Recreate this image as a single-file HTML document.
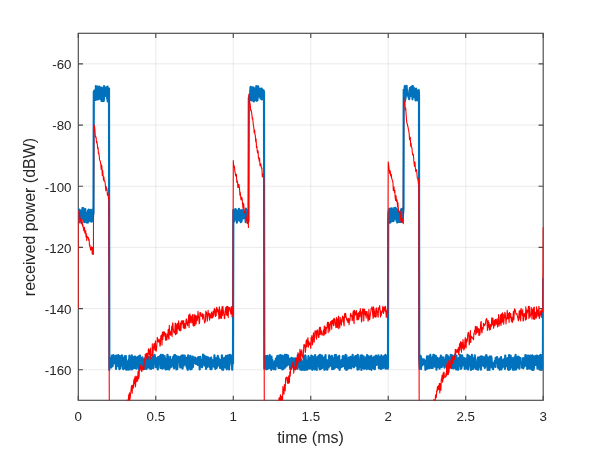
<!DOCTYPE html>
<html><head><meta charset="utf-8"><title>received power</title>
<style>html,body{margin:0;padding:0;background:#fff}svg{display:block}</style>
</head><body>
<svg width="600" height="450" viewBox="0 0 600 450">
<defs><clipPath id="ax2"><rect x="78.3" y="33.3" width="465.4" height="367.4"/></clipPath><clipPath id="ax"><rect x="78.3" y="33.3" width="464.9" height="367"/></clipPath></defs>
<rect width="600" height="450" fill="#fff"/>
<path d="M155.78 33.3V400.3M233.27 33.3V400.3M310.75 33.3V400.3M388.23 33.3V400.3M465.72 33.3V400.3M78.3 369.72H543.2M78.3 308.55H543.2M78.3 247.38H543.2M78.3 186.22H543.2M78.3 125.05H543.2M78.3 63.88H543.2" stroke="#262626" stroke-opacity="0.09" stroke-width="1" fill="none"/>
<rect x="78.3" y="33.3" width="464.90000000000003" height="367.0" fill="none" stroke="#4a4a4a" stroke-width="1.15"/>
<path d="M78.30 400.3v-4.65M78.30 33.3v4.65M155.78 400.3v-4.65M155.78 33.3v4.65M233.27 400.3v-4.65M233.27 33.3v4.65M310.75 400.3v-4.65M310.75 33.3v4.65M388.23 400.3v-4.65M388.23 33.3v4.65M465.72 400.3v-4.65M465.72 33.3v4.65M543.20 400.3v-4.65M543.20 33.3v4.65M78.3 369.72h4.65M543.2 369.72h-4.65M78.3 308.55h4.65M543.2 308.55h-4.65M78.3 247.38h4.65M543.2 247.38h-4.65M78.3 186.22h4.65M543.2 186.22h-4.65M78.3 125.05h4.65M543.2 125.05h-4.65M78.3 63.88h4.65M543.2 63.88h-4.65" stroke="#4a4a4a" stroke-width="1.15" fill="none"/>
<g clip-path="url(#ax)" fill="none" stroke-linejoin="round">
<polyline points="78.3,213.4 78.6,209.4 78.8,211.2 79.1,219.3 79.3,218.2 79.6,209.8 79.8,222.5 80.1,210.6 80.4,210.9 80.6,215.7 80.9,218.2 81.1,218.5 81.4,218.9 81.7,216.1 81.9,215.2 82.2,214.5 82.4,208.0 82.7,211.0 82.9,213.5 83.2,208.1 83.5,219.5 83.7,220.3 84.0,213.6 84.2,222.0 84.5,222.1 84.8,215.1 85.0,215.8 85.3,209.1 85.5,213.4 85.8,215.1 86.0,215.3 86.3,219.0 86.6,222.4 86.8,219.8 87.1,212.5 87.3,219.7 87.6,217.2 87.9,222.6 88.1,210.4 88.4,220.3 88.6,218.7 88.9,209.7 89.1,215.1 89.4,210.2 89.7,213.2 89.9,211.7 90.2,221.3 90.4,214.7 90.7,215.2 91.0,209.8 91.2,217.3 91.5,213.8 91.7,221.7 92.0,216.9 92.2,217.9 92.5,220.4 92.8,210.6 93.0,217.0 93.3,208.2 93.5,213.9 93.8,91.9 94.1,91.4 94.3,90.7 94.6,99.1 94.8,94.5 95.1,97.7 95.3,95.1 95.6,100.0 95.9,86.1 96.1,98.1 96.4,90.8 96.6,96.7 96.9,87.6 97.2,91.0 97.4,99.4 97.7,88.1 97.9,86.5 98.2,87.1 98.4,92.4 98.7,99.2 99.0,98.4 99.2,86.7 99.5,92.7 99.7,98.6 100.0,87.4 100.3,91.3 100.5,92.4 100.8,95.5 101.0,95.0 101.3,97.7 101.5,100.9 101.8,87.6 102.1,94.1 102.3,92.8 102.6,96.4 102.8,89.6 103.1,101.1 103.4,95.6 103.6,101.0 103.9,99.5 104.1,86.1 104.4,91.0 104.6,94.7 104.9,93.2 105.2,87.6 105.4,96.0 105.7,92.1 105.9,90.6 106.2,95.8 106.5,93.2 106.7,89.3 107.0,87.0 107.2,99.1 107.5,86.7 107.7,101.4 108.0,89.5 108.3,88.6 108.5,99.3 108.8,94.8 109.0,88.5 109.3,369.8 109.6,360.4 109.8,357.9 110.1,362.2 110.3,358.9 110.6,366.6 110.8,367.0 111.1,364.5 111.4,367.3 111.6,364.7 111.9,355.5 112.1,361.3 112.4,364.8 112.7,365.9 112.9,355.5 113.2,363.2 113.4,355.0 113.7,362.1 113.9,362.1 114.2,356.3 114.5,358.7 114.7,361.1 115.0,363.5 115.2,356.6 115.5,363.7 115.8,355.9 116.0,369.0 116.3,363.4 116.5,362.1 116.8,355.5 117.0,366.2 117.3,357.7 117.6,359.7 117.8,359.1 118.1,360.4 118.3,355.2 118.6,364.9 118.8,363.9 119.1,366.9 119.4,369.2 119.6,366.8 119.9,356.0 120.1,357.2 120.4,368.3 120.7,360.8 120.9,362.7 121.2,360.9 121.4,359.9 121.7,365.3 121.9,355.3 122.2,362.9 122.5,360.4 122.7,360.3 123.0,367.2 123.2,369.1 123.5,363.7 123.8,358.3 124.0,357.6 124.3,358.9 124.5,368.3 124.8,356.1 125.0,357.8 125.3,356.6 125.6,362.0 125.8,356.0 126.1,369.3 126.3,369.6 126.6,369.7 126.9,366.2 127.1,366.2 127.4,367.2 127.6,361.4 127.9,369.4 128.1,361.0 128.4,367.5 128.7,359.7 128.9,369.7 129.2,365.3 129.4,355.7 129.7,361.8 130.0,357.6 130.2,360.0 130.5,360.7 130.7,367.1 131.0,361.2 131.2,369.4 131.5,357.8 131.8,355.3 132.0,357.0 132.3,369.2 132.5,364.8 132.8,365.2 133.1,368.3 133.3,360.4 133.6,357.8 133.8,365.2 134.1,356.8 134.3,357.8 134.6,368.0 134.9,358.3 135.1,356.5 135.4,367.0 135.6,361.3 135.9,360.3 136.2,360.7 136.4,368.6 136.7,359.9 136.9,360.4 137.2,357.4 137.4,357.7 137.7,365.0 138.0,359.0 138.2,356.8 138.5,356.4 138.7,367.6 139.0,369.6 139.3,360.1 139.5,366.7 139.8,361.4 140.0,355.6 140.3,364.2 140.5,366.2 140.8,363.0 141.1,360.0 141.3,368.5 141.6,364.2 141.8,368.0 142.1,359.9 142.4,357.3 142.6,364.3 142.9,364.3 143.1,361.8 143.4,366.7 143.6,366.2 143.9,365.0 144.2,363.0 144.4,368.8 144.7,358.5 144.9,361.2 145.2,365.4 145.5,368.8 145.7,358.4 146.0,368.0 146.2,368.0 146.5,368.0 146.7,368.8 147.0,356.2 147.3,365.9 147.5,365.3 147.8,357.3 148.0,360.5 148.3,367.2 148.6,363.4 148.8,356.5 149.1,364.3 149.3,359.2 149.6,368.5 149.8,358.9 150.1,358.1 150.4,357.4 150.6,359.7 150.9,364.4 151.1,369.0 151.4,362.1 151.7,358.4 151.9,367.1 152.2,366.0 152.4,361.8 152.7,358.6 152.9,356.3 153.2,368.1 153.5,367.2 153.7,357.8 154.0,360.2 154.2,359.0 154.5,354.8 154.8,355.7 155.0,357.1 155.3,358.1 155.5,364.0 155.8,360.2 156.0,367.2 156.3,358.4 156.6,358.4 156.8,359.0 157.1,363.2 157.3,364.2 157.6,363.6 157.8,369.5 158.1,357.1 158.4,361.7 158.6,364.1 158.9,361.6 159.1,359.0 159.4,364.2 159.7,357.3 159.9,356.0 160.2,364.1 160.4,367.9 160.7,358.4 160.9,354.8 161.2,367.8 161.5,359.1 161.7,357.4 162.0,355.9 162.2,368.1 162.5,368.6 162.8,354.9 163.0,368.2 163.3,367.3 163.5,361.2 163.8,363.2 164.0,358.5 164.3,367.1 164.6,356.0 164.8,366.7 165.1,358.3 165.3,369.0 165.6,362.8 165.9,369.5 166.1,365.2 166.4,365.2 166.6,359.0 166.9,363.1 167.1,369.2 167.4,354.8 167.7,356.4 167.9,356.0 168.2,366.3 168.4,364.0 168.7,366.5 169.0,368.1 169.2,369.5 169.5,362.3 169.7,368.1 170.0,367.3 170.2,356.9 170.5,362.6 170.8,367.2 171.0,359.8 171.3,366.0 171.5,362.0 171.8,365.7 172.1,362.1 172.3,360.4 172.6,361.8 172.8,364.0 173.1,357.9 173.3,356.7 173.6,367.3 173.9,367.9 174.1,368.3 174.4,355.0 174.6,355.6 174.9,366.5 175.2,355.2 175.4,366.8 175.7,362.3 175.9,362.4 176.2,356.0 176.4,369.4 176.7,365.2 177.0,360.8 177.2,369.0 177.5,366.4 177.7,362.9 178.0,356.6 178.3,358.4 178.5,357.3 178.8,358.4 179.0,359.2 179.3,357.0 179.5,359.6 179.8,358.8 180.1,365.4 180.3,367.5 180.6,358.5 180.8,367.5 181.1,356.0 181.4,360.9 181.6,365.0 181.9,355.7 182.1,367.7 182.4,362.2 182.6,368.6 182.9,355.3 183.2,361.2 183.4,357.7 183.7,365.7 183.9,357.8 184.2,359.3 184.5,360.2 184.7,355.5 185.0,363.4 185.2,363.7 185.5,359.4 185.7,357.3 186.0,364.9 186.3,359.8 186.5,366.8 186.8,361.6 187.0,358.3 187.3,369.0 187.6,358.9 187.8,369.8 188.1,355.4 188.3,362.9 188.6,363.8 188.8,359.0 189.1,362.0 189.4,358.8 189.6,368.7 189.9,361.4 190.1,361.5 190.4,355.8 190.7,369.4 190.9,363.1 191.2,360.4 191.4,361.6 191.7,368.9 191.9,361.0 192.2,366.6 192.5,367.0 192.7,356.6 193.0,367.0 193.2,363.1 193.5,358.5 193.8,359.2 194.0,361.6 194.3,357.7 194.5,362.9 194.8,360.5 195.0,357.5 195.3,359.7 195.6,360.2 195.8,363.8 196.1,361.5 196.3,364.0 196.6,358.6 196.8,364.2 197.1,362.9 197.4,358.5 197.6,362.3 197.9,364.9 198.1,357.4 198.4,364.2 198.7,357.1 198.9,358.0 199.2,363.2 199.4,359.1 199.7,369.5 199.9,364.1 200.2,356.9 200.5,361.2 200.7,361.5 201.0,359.9 201.2,359.7 201.5,361.1 201.8,363.6 202.0,367.2 202.3,365.5 202.5,365.5 202.8,363.4 203.0,354.7 203.3,364.6 203.6,363.2 203.8,364.3 204.1,361.1 204.3,355.5 204.6,356.4 204.9,364.3 205.1,365.9 205.4,356.5 205.6,362.5 205.9,359.5 206.1,368.9 206.4,356.8 206.7,365.2 206.9,362.5 207.2,367.0 207.4,363.6 207.7,357.4 208.0,357.4 208.2,362.8 208.5,358.3 208.7,363.0 209.0,364.3 209.2,361.7 209.5,366.9 209.8,365.2 210.0,359.2 210.3,358.2 210.5,369.2 210.8,358.8 211.1,357.5 211.3,363.2 211.6,369.1 211.8,359.6 212.1,366.3 212.3,360.2 212.6,364.3 212.9,360.3 213.1,366.1 213.4,362.7 213.6,362.0 213.9,360.4 214.2,366.9 214.4,355.3 214.7,365.6 214.9,365.3 215.2,366.1 215.4,369.0 215.7,363.6 216.0,358.2 216.2,359.2 216.5,367.0 216.7,367.9 217.0,365.1 217.3,358.3 217.5,362.6 217.8,355.9 218.0,360.0 218.3,360.5 218.5,358.3 218.8,358.5 219.1,364.8 219.3,366.1 219.6,363.3 219.8,362.5 220.1,367.9 220.4,363.3 220.6,360.2 220.9,367.9 221.1,367.9 221.4,367.4 221.6,365.7 221.9,355.3 222.2,369.6 222.4,367.2 222.7,367.5 222.9,362.8 223.2,369.8 223.5,363.0 223.7,367.5 224.0,365.9 224.2,357.9 224.5,367.2 224.7,360.6 225.0,363.8 225.3,363.6 225.5,357.5 225.8,367.6 226.0,355.9 226.3,356.4 226.6,359.8 226.8,369.3 227.1,359.9 227.3,360.8 227.6,358.2 227.8,366.8 228.1,355.4 228.4,356.5 228.6,368.3 228.9,365.2 229.1,369.5 229.4,357.3 229.7,356.0 229.9,354.9 230.2,360.7 230.4,359.8 230.7,359.6 230.9,361.3 231.2,355.5 231.5,360.7 231.7,364.9 232.0,362.2 232.2,369.7 232.5,358.9 232.8,359.4 233.0,363.6 233.3,210.1 233.5,211.5 233.8,217.7 234.0,221.5 234.3,220.7 234.6,219.9 234.8,218.1 235.1,216.0 235.3,209.0 235.6,218.5 235.8,209.4 236.1,212.6 236.4,210.1 236.6,216.7 236.9,222.6 237.1,211.1 237.4,219.0 237.7,220.5 237.9,210.9 238.2,212.5 238.4,219.5 238.7,218.7 238.9,208.8 239.2,218.7 239.5,212.3 239.7,220.7 240.0,210.6 240.2,220.9 240.5,215.0 240.8,222.1 241.0,214.5 241.3,210.2 241.5,221.4 241.8,218.6 242.0,211.4 242.3,213.7 242.6,218.0 242.8,213.4 243.1,215.9 243.3,210.0 243.6,218.3 243.9,211.5 244.1,213.3 244.4,211.7 244.6,217.1 244.9,212.0 245.1,212.4 245.4,216.9 245.7,222.2 245.9,208.5 246.2,212.1 246.4,219.6 246.7,211.9 247.0,218.5 247.2,215.7 247.5,210.0 247.7,216.0 248.0,218.4 248.2,218.1 248.5,221.5 248.8,98.0 249.0,97.2 249.3,98.8 249.5,100.5 249.8,94.1 250.1,98.1 250.3,89.8 250.6,86.8 250.8,97.2 251.1,92.4 251.3,93.4 251.6,100.3 251.9,99.5 252.1,87.4 252.4,94.0 252.6,88.7 252.9,100.4 253.2,92.0 253.4,87.7 253.7,87.7 253.9,101.4 254.2,93.2 254.4,95.6 254.7,89.4 255.0,100.3 255.2,97.3 255.5,88.6 255.7,94.0 256.0,94.3 256.3,86.1 256.5,96.4 256.8,100.8 257.0,95.3 257.3,99.1 257.5,100.2 257.8,92.5 258.1,86.3 258.3,92.3 258.6,91.2 258.8,96.4 259.1,92.4 259.4,89.5 259.6,92.1 259.9,88.7 260.1,92.7 260.4,98.3 260.6,92.2 260.9,93.7 261.2,98.9 261.4,91.7 261.7,88.5 261.9,99.4 262.2,92.8 262.5,89.8 262.7,95.1 263.0,97.2 263.2,95.6 263.5,92.9 263.7,90.6 264.0,92.6 264.3,368.4 264.5,357.5 264.8,355.9 265.0,368.5 265.3,366.2 265.6,367.4 265.8,357.0 266.1,356.1 266.3,369.3 266.6,364.9 266.8,367.1 267.1,362.8 267.4,355.9 267.6,368.9 267.9,367.4 268.1,362.6 268.4,362.0 268.7,358.6 268.9,363.3 269.2,367.9 269.4,364.6 269.7,355.0 269.9,358.5 270.2,368.2 270.5,357.7 270.7,365.3 271.0,358.1 271.2,369.8 271.5,356.7 271.8,367.5 272.0,363.1 272.3,359.9 272.5,362.3 272.8,367.5 273.0,367.9 273.3,365.7 273.6,369.2 273.8,366.7 274.1,368.0 274.3,362.9 274.6,364.6 274.8,361.0 275.1,365.7 275.4,369.5 275.6,365.0 275.9,358.5 276.1,366.1 276.4,363.8 276.7,358.5 276.9,363.8 277.2,356.5 277.4,356.0 277.7,365.3 277.9,358.8 278.2,366.2 278.5,367.9 278.7,363.3 279.0,360.8 279.2,355.7 279.5,367.8 279.8,359.1 280.0,362.8 280.3,368.0 280.5,355.1 280.8,359.4 281.0,368.1 281.3,356.2 281.6,368.4 281.8,368.6 282.1,365.0 282.3,355.7 282.6,369.5 282.9,356.0 283.1,360.7 283.4,369.0 283.6,361.3 283.9,363.0 284.1,361.4 284.4,358.7 284.7,359.6 284.9,354.8 285.2,367.6 285.4,357.6 285.7,363.7 286.0,358.0 286.2,356.4 286.5,354.9 286.7,366.0 287.0,363.1 287.2,355.6 287.5,355.6 287.8,364.3 288.0,355.6 288.3,363.8 288.5,364.3 288.8,358.5 289.1,362.8 289.3,363.2 289.6,364.1 289.8,363.4 290.1,367.9 290.3,369.1 290.6,358.5 290.9,361.4 291.1,359.7 291.4,357.8 291.6,366.5 291.9,366.4 292.2,365.8 292.4,365.4 292.7,358.4 292.9,364.3 293.2,365.1 293.4,360.3 293.7,367.2 294.0,368.4 294.2,359.4 294.5,358.5 294.7,365.5 295.0,360.3 295.3,369.5 295.5,363.8 295.8,361.2 296.0,366.1 296.3,364.7 296.5,360.7 296.8,361.0 297.1,367.7 297.3,359.2 297.6,368.8 297.8,355.2 298.1,366.9 298.4,366.1 298.6,367.0 298.9,354.9 299.1,365.6 299.4,360.8 299.6,354.9 299.9,355.5 300.2,369.4 300.4,362.1 300.7,360.8 300.9,359.3 301.2,364.9 301.5,365.0 301.7,370.0 302.0,369.5 302.2,361.6 302.5,368.9 302.7,366.9 303.0,364.9 303.3,368.9 303.5,369.6 303.8,355.8 304.0,363.4 304.3,366.9 304.6,359.2 304.8,369.9 305.1,366.3 305.3,355.3 305.6,356.3 305.8,360.3 306.1,368.6 306.4,365.2 306.6,369.6 306.9,366.7 307.1,369.6 307.4,368.1 307.7,360.3 307.9,368.5 308.2,367.6 308.4,356.2 308.7,364.9 308.9,364.9 309.2,368.7 309.5,357.9 309.7,359.7 310.0,361.7 310.2,360.6 310.5,368.5 310.8,366.0 311.0,361.1 311.3,355.5 311.5,357.5 311.8,360.2 312.0,362.1 312.3,369.8 312.6,356.4 312.8,369.0 313.1,368.0 313.3,359.4 313.6,357.6 313.8,358.0 314.1,363.1 314.4,367.3 314.6,369.5 314.9,357.0 315.1,355.1 315.4,366.3 315.7,356.8 315.9,363.9 316.2,365.3 316.4,362.3 316.7,369.9 316.9,363.3 317.2,367.0 317.5,359.1 317.7,362.3 318.0,356.7 318.2,356.3 318.5,365.2 318.8,365.7 319.0,355.7 319.3,362.3 319.5,368.5 319.8,369.3 320.0,354.9 320.3,361.2 320.6,369.2 320.8,362.2 321.1,362.3 321.3,363.4 321.6,355.5 321.9,355.5 322.1,368.1 322.4,367.7 322.6,363.8 322.9,357.3 323.1,360.5 323.4,358.9 323.7,361.2 323.9,366.8 324.2,357.5 324.4,369.8 324.7,359.3 325.0,367.1 325.2,362.8 325.5,355.1 325.7,361.8 326.0,369.2 326.2,363.5 326.5,359.9 326.8,369.2 327.0,366.2 327.3,369.7 327.5,361.8 327.8,364.2 328.1,362.3 328.3,365.5 328.6,360.0 328.8,367.4 329.1,356.2 329.3,355.3 329.6,362.5 329.9,362.9 330.1,356.9 330.4,365.6 330.6,357.7 330.9,365.6 331.2,359.0 331.4,364.9 331.7,360.8 331.9,355.9 332.2,369.2 332.4,357.7 332.7,361.7 333.0,364.2 333.2,364.7 333.5,369.0 333.7,366.1 334.0,360.5 334.3,368.5 334.5,359.8 334.8,355.3 335.0,355.0 335.3,356.4 335.5,357.7 335.8,367.3 336.1,355.2 336.3,366.9 336.6,356.7 336.8,356.6 337.1,360.5 337.4,362.1 337.6,367.0 337.9,362.1 338.1,365.6 338.4,368.1 338.6,368.1 338.9,357.8 339.2,355.9 339.4,367.9 339.7,369.8 339.9,366.0 340.2,368.0 340.5,367.1 340.7,361.1 341.0,363.6 341.2,363.5 341.5,366.9 341.7,359.9 342.0,365.6 342.3,363.9 342.5,362.9 342.8,356.2 343.0,366.3 343.3,359.0 343.6,365.3 343.8,356.3 344.1,364.0 344.3,362.3 344.6,356.6 344.8,359.7 345.1,368.6 345.4,367.9 345.6,354.9 345.9,369.6 346.1,365.4 346.4,355.4 346.7,369.8 346.9,367.6 347.2,366.8 347.4,368.7 347.7,362.8 347.9,361.0 348.2,365.2 348.5,368.4 348.7,357.6 349.0,357.7 349.2,361.4 349.5,367.9 349.7,361.7 350.0,360.4 350.3,363.5 350.5,356.8 350.8,364.1 351.0,362.2 351.3,368.3 351.6,361.4 351.8,358.3 352.1,358.8 352.3,366.1 352.6,354.9 352.8,359.0 353.1,363.5 353.4,363.7 353.6,358.1 353.9,367.3 354.1,360.2 354.4,359.0 354.7,362.1 354.9,356.7 355.2,362.9 355.4,362.9 355.7,365.7 355.9,356.0 356.2,365.2 356.5,359.4 356.7,363.8 357.0,355.7 357.2,355.5 357.5,369.6 357.8,354.8 358.0,360.8 358.3,368.9 358.5,362.4 358.8,369.3 359.0,361.6 359.3,367.2 359.6,364.4 359.8,365.4 360.1,360.8 360.3,357.4 360.6,355.7 360.9,365.0 361.1,361.3 361.4,369.9 361.6,364.3 361.9,355.3 362.1,368.2 362.4,356.7 362.7,360.0 362.9,365.5 363.2,358.1 363.4,365.6 363.7,356.3 364.0,368.8 364.2,368.2 364.5,358.6 364.7,363.2 365.0,367.8 365.2,362.2 365.5,365.5 365.8,361.6 366.0,358.6 366.3,356.9 366.5,369.1 366.8,361.0 367.1,355.0 367.3,363.0 367.6,358.3 367.8,368.5 368.1,356.7 368.3,361.1 368.6,356.4 368.9,358.0 369.1,356.7 369.4,369.1 369.6,359.1 369.9,367.0 370.2,366.0 370.4,365.1 370.7,361.0 370.9,360.4 371.2,355.8 371.4,369.8 371.7,367.1 372.0,364.5 372.2,357.5 372.5,361.6 372.7,362.2 373.0,358.4 373.3,360.0 373.5,365.6 373.8,368.7 374.0,363.0 374.3,356.6 374.5,360.9 374.8,369.2 375.1,363.3 375.3,364.1 375.6,361.1 375.8,361.0 376.1,355.5 376.4,364.9 376.6,363.8 376.9,360.6 377.1,356.5 377.4,359.2 377.6,362.8 377.9,357.6 378.2,362.6 378.4,355.3 378.7,365.7 378.9,368.1 379.2,357.3 379.5,365.5 379.7,357.1 380.0,360.7 380.2,362.2 380.5,368.7 380.7,358.0 381.0,369.0 381.3,355.3 381.5,356.6 381.8,365.4 382.0,368.1 382.3,356.5 382.6,362.7 382.8,368.1 383.1,362.4 383.3,366.2 383.6,363.8 383.8,360.2 384.1,356.0 384.4,357.8 384.6,367.6 384.9,362.7 385.1,362.5 385.4,354.9 385.7,368.7 385.9,362.2 386.2,356.0 386.4,363.9 386.7,366.0 386.9,361.5 387.2,365.1 387.5,355.8 387.7,368.7 388.0,366.9 388.2,221.4 388.5,212.2 388.7,218.3 389.0,209.4 389.3,209.5 389.5,208.9 389.8,218.9 390.0,222.6 390.3,216.9 390.6,208.5 390.8,211.4 391.1,221.7 391.3,212.3 391.6,209.1 391.8,208.4 392.1,212.1 392.4,209.9 392.6,210.3 392.9,217.4 393.1,221.2 393.4,211.9 393.7,220.6 393.9,217.0 394.2,208.0 394.4,214.4 394.7,215.0 394.9,208.7 395.2,218.4 395.5,207.9 395.7,209.2 396.0,217.3 396.2,217.8 396.5,220.8 396.8,209.2 397.0,219.9 397.3,222.5 397.5,209.5 397.8,213.8 398.0,212.7 398.3,211.8 398.6,222.0 398.8,221.3 399.1,215.3 399.3,221.9 399.6,215.2 399.9,211.8 400.1,213.0 400.4,213.6 400.6,221.9 400.9,219.1 401.1,209.4 401.4,220.8 401.7,214.8 401.9,221.9 402.2,208.8 402.4,220.1 402.7,216.6 403.0,214.6 403.2,212.1 403.5,208.8 403.7,89.8 404.0,96.0 404.2,100.3 404.5,90.3 404.8,86.0 405.0,101.2 405.3,89.2 405.5,98.7 405.8,94.2 406.1,93.2 406.3,91.7 406.6,85.8 406.8,90.6 407.1,95.3 407.3,90.1 407.6,94.1 407.9,94.9 408.1,95.7 408.4,93.7 408.6,97.0 408.9,97.7 409.2,99.1 409.4,94.5 409.7,96.8 409.9,88.2 410.2,88.0 410.4,96.0 410.7,91.7 411.0,87.2 411.2,95.8 411.5,92.7 411.7,94.4 412.0,91.2 412.3,86.2 412.5,99.3 412.8,86.1 413.0,90.9 413.3,88.8 413.5,91.4 413.8,87.7 414.1,96.3 414.3,90.2 414.6,97.3 414.8,93.4 415.1,90.7 415.4,98.3 415.6,100.5 415.9,88.9 416.1,88.6 416.4,90.9 416.6,96.4 416.9,91.0 417.2,100.2 417.4,91.0 417.7,92.3 417.9,91.7 418.2,94.4 418.5,97.9 418.7,90.0 419.0,94.1 419.2,358.6 419.5,364.5 419.7,368.7 420.0,361.7 420.3,360.5 420.5,355.9 420.8,356.4 421.0,369.1 421.3,358.2 421.6,366.0 421.8,359.4 422.1,364.2 422.3,365.1 422.6,362.6 422.8,361.9 423.1,359.4 423.4,360.3 423.6,359.7 423.9,364.1 424.1,359.7 424.4,364.7 424.7,360.7 424.9,363.0 425.2,361.4 425.4,369.8 425.7,362.4 425.9,366.7 426.2,364.1 426.5,368.9 426.7,360.0 427.0,356.4 427.2,364.6 427.5,368.4 427.7,360.5 428.0,368.1 428.3,356.4 428.5,368.1 428.8,364.5 429.0,362.5 429.3,368.2 429.6,365.1 429.8,365.8 430.1,359.1 430.3,354.9 430.6,364.5 430.8,357.9 431.1,367.9 431.4,361.2 431.6,363.4 431.9,365.6 432.1,357.5 432.4,358.6 432.7,368.0 432.9,365.6 433.2,357.5 433.4,354.8 433.7,360.7 433.9,356.7 434.2,355.0 434.5,358.7 434.7,360.2 435.0,366.6 435.2,364.4 435.5,360.5 435.8,355.9 436.0,365.4 436.3,364.0 436.5,369.7 436.8,359.4 437.0,363.2 437.3,357.8 437.6,366.4 437.8,359.9 438.1,359.7 438.3,362.9 438.6,367.1 438.9,363.9 439.1,358.6 439.4,367.1 439.6,368.6 439.9,362.9 440.1,366.4 440.4,357.8 440.7,357.5 440.9,355.6 441.2,357.2 441.4,360.1 441.7,367.2 442.0,357.4 442.2,358.9 442.5,358.6 442.7,359.4 443.0,357.3 443.2,365.5 443.5,359.7 443.8,362.1 444.0,364.9 444.3,365.0 444.5,367.6 444.8,362.5 445.1,364.4 445.3,363.6 445.6,357.0 445.8,359.6 446.1,359.6 446.3,355.0 446.6,366.7 446.9,362.3 447.1,368.6 447.4,364.0 447.6,355.5 447.9,368.7 448.2,358.4 448.4,356.8 448.7,362.2 448.9,357.8 449.2,363.3 449.4,364.6 449.7,362.3 450.0,367.0 450.2,365.3 450.5,365.4 450.7,354.9 451.0,364.9 451.3,366.5 451.5,355.7 451.8,367.9 452.0,355.3 452.3,357.0 452.5,360.1 452.8,363.5 453.1,367.0 453.3,368.4 453.6,368.4 453.8,364.7 454.1,363.8 454.4,355.9 454.6,361.8 454.9,354.9 455.1,359.0 455.4,367.8 455.6,361.6 455.9,367.6 456.2,369.4 456.4,355.6 456.7,364.9 456.9,367.1 457.2,368.5 457.5,360.1 457.7,363.0 458.0,369.8 458.2,359.1 458.5,366.1 458.7,358.1 459.0,362.6 459.3,361.8 459.5,363.0 459.8,359.7 460.0,354.9 460.3,357.8 460.6,369.0 460.8,362.5 461.1,366.4 461.3,368.5 461.6,367.0 461.8,366.2 462.1,355.3 462.4,358.6 462.6,357.0 462.9,359.3 463.1,365.2 463.4,364.0 463.7,363.3 463.9,365.5 464.2,363.6 464.4,358.2 464.7,368.9 464.9,365.8 465.2,362.7 465.5,359.7 465.7,360.1 466.0,358.9 466.2,368.4 466.5,367.3 466.7,365.3 467.0,365.7 467.3,358.5 467.5,354.8 467.8,359.6 468.0,369.5 468.3,365.5 468.6,357.7 468.8,355.9 469.1,360.9 469.3,364.7 469.6,364.6 469.8,360.3 470.1,356.8 470.4,364.8 470.6,367.1 470.9,370.0 471.1,367.9 471.4,357.0 471.7,360.5 471.9,354.9 472.2,369.0 472.4,364.4 472.7,357.9 472.9,359.9 473.2,369.0 473.5,363.9 473.7,360.3 474.0,359.5 474.2,363.1 474.5,367.1 474.8,355.3 475.0,362.9 475.3,359.1 475.5,361.8 475.8,368.8 476.0,366.4 476.3,369.1 476.6,367.1 476.8,367.0 477.1,363.7 477.3,365.1 477.6,364.5 477.9,357.5 478.1,369.7 478.4,368.4 478.6,357.7 478.9,361.9 479.1,363.3 479.4,365.9 479.7,361.7 479.9,366.6 480.2,356.9 480.4,357.4 480.7,365.1 481.0,369.6 481.2,356.4 481.5,365.5 481.7,360.0 482.0,356.9 482.2,357.8 482.5,356.8 482.8,362.5 483.0,357.1 483.3,363.0 483.5,366.0 483.8,362.7 484.1,364.9 484.3,358.3 484.6,357.3 484.8,367.9 485.1,367.5 485.3,364.2 485.6,362.9 485.9,355.4 486.1,355.6 486.4,355.2 486.6,358.9 486.9,359.7 487.2,365.9 487.4,364.3 487.7,370.0 487.9,357.3 488.2,365.8 488.4,368.8 488.7,365.2 489.0,365.1 489.2,359.0 489.5,369.9 489.7,366.5 490.0,356.3 490.3,357.0 490.5,360.4 490.8,361.5 491.0,366.6 491.3,356.6 491.5,358.4 491.8,362.2 492.1,367.6 492.3,366.7 492.6,364.2 492.8,365.0 493.1,369.1 493.4,363.8 493.6,363.2 493.9,365.6 494.1,364.1 494.4,364.9 494.6,364.3 494.9,360.6 495.2,362.4 495.4,367.0 495.7,357.9 495.9,362.2 496.2,363.0 496.5,359.1 496.7,358.5 497.0,357.0 497.2,357.6 497.5,359.8 497.7,359.0 498.0,367.6 498.3,359.3 498.5,366.1 498.8,366.1 499.0,368.2 499.3,364.0 499.6,369.7 499.8,360.0 500.1,358.6 500.3,358.2 500.6,368.1 500.8,360.2 501.1,357.2 501.4,369.5 501.6,367.1 501.9,365.9 502.1,363.0 502.4,367.4 502.7,361.8 502.9,364.8 503.2,360.0 503.4,361.9 503.7,359.5 503.9,366.3 504.2,359.2 504.5,358.8 504.7,359.0 505.0,369.0 505.2,355.6 505.5,361.2 505.7,365.9 506.0,363.4 506.3,362.1 506.5,362.1 506.8,366.2 507.0,366.0 507.3,364.5 507.6,358.1 507.8,363.3 508.1,369.4 508.3,363.1 508.6,366.9 508.8,369.8 509.1,355.1 509.4,365.5 509.6,361.8 509.9,364.5 510.1,369.2 510.4,356.2 510.7,355.7 510.9,367.2 511.2,363.6 511.4,364.3 511.7,367.5 511.9,359.9 512.2,358.1 512.5,358.4 512.7,359.7 513.0,369.8 513.2,366.5 513.5,362.2 513.8,359.3 514.0,364.1 514.3,363.2 514.5,357.2 514.8,369.7 515.0,365.9 515.3,365.6 515.6,354.8 515.8,366.5 516.1,369.3 516.3,363.7 516.6,360.1 516.9,367.7 517.1,357.2 517.4,367.0 517.6,359.3 517.9,367.5 518.1,356.5 518.4,366.9 518.7,358.8 518.9,357.2 519.2,366.1 519.4,368.6 519.7,361.1 520.0,362.4 520.2,362.7 520.5,358.1 520.7,362.9 521.0,362.4 521.2,362.6 521.5,363.1 521.8,363.8 522.0,367.6 522.3,365.5 522.5,366.0 522.8,366.2 523.1,358.1 523.3,368.3 523.6,366.9 523.8,362.0 524.1,365.2 524.3,366.4 524.6,364.3 524.9,362.3 525.1,359.7 525.4,355.2 525.6,357.0 525.9,363.4 526.2,363.1 526.4,363.7 526.7,366.4 526.9,355.5 527.2,369.0 527.4,366.9 527.7,359.9 528.0,361.0 528.2,365.8 528.5,355.7 528.7,363.8 529.0,360.9 529.3,368.6 529.5,356.4 529.8,368.4 530.0,364.0 530.3,356.5 530.5,355.6 530.8,356.2 531.1,357.4 531.3,366.5 531.6,369.5 531.8,363.1 532.1,369.1 532.4,355.3 532.6,369.9 532.9,365.0 533.1,366.9 533.4,369.8 533.6,362.4 533.9,368.9 534.2,356.3 534.4,359.5 534.7,364.4 534.9,357.2 535.2,357.8 535.5,365.0 535.7,357.1 536.0,355.8 536.2,360.5 536.5,364.6 536.7,356.3 537.0,355.6 537.3,364.7 537.5,368.7 537.8,356.8 538.0,359.9 538.3,366.5 538.6,361.4 538.8,365.3 539.1,356.0 539.3,364.8 539.6,367.0 539.8,369.4 540.1,364.8 540.4,354.9 540.6,366.7 540.9,363.0 541.1,355.2 541.4,369.9 541.7,365.5 541.9,357.5 542.2,368.6 542.4,355.8 542.7,357.3 542.9,367.8 543.2,278.0" stroke="#0072BD" stroke-width="2.2"/>
</g>
<g fill="none" stroke-linejoin="round"><polyline points="78.3,308.6 78.3,210.7 78.7,211.4 79.1,213.0 79.5,213.3 79.8,217.7 80.2,218.5 80.6,220.9 81.0,221.8 81.4,224.0 81.8,219.5 82.2,220.8 82.6,226.2 82.9,224.8 83.3,227.6 83.7,230.4 84.1,231.0 84.5,227.2 84.9,233.3 85.3,232.5 85.7,230.7 86.0,236.9 86.4,233.9 86.8,240.4 87.2,236.5 87.6,236.9 88.0,237.7 88.4,237.6 88.8,240.6 89.1,239.4 89.5,245.9 89.9,244.9 90.3,248.2 90.7,250.2 91.1,248.2 91.5,246.8 91.9,247.2 92.2,254.1 92.6,247.6 93.0,253.9 93.4,254.4 93.8,125.0 94.2,125.1 94.6,127.1 95.0,130.7 95.3,136.0 95.7,137.4 96.1,137.0 96.5,142.8 96.9,141.7 97.3,144.1 97.7,148.6 98.1,147.6 98.4,153.5 98.8,152.9 99.2,155.7 99.6,160.0 100.0,160.5 100.4,162.0 100.8,164.4 101.2,169.4 101.5,164.8 101.9,166.9 102.3,175.5 102.7,170.6 103.1,175.4 103.5,180.2 103.9,176.8 104.3,181.3 104.6,180.9 105.0,181.7 105.4,185.4 105.8,190.6 106.2,186.5 106.6,189.0 107.0,188.9 107.4,195.1 107.7,192.8 108.1,193.6 108.5,198.9 108.9,199.9 109.3,420.0 109.7,420.0 110.1,420.0 110.5,420.0 110.8,420.0 111.2,420.0 111.6,420.0 112.0,420.0 112.4,420.0 112.8,420.0 113.2,420.0 113.6,420.0 113.9,420.0 114.3,420.0 114.7,420.0 115.1,420.0 115.5,420.0 115.9,420.0 116.3,420.0 116.7,420.0 117.0,420.0 117.4,420.0 117.8,420.0 118.2,420.0 118.6,420.0 119.0,420.0 119.4,420.0 119.8,420.0 120.1,420.0 120.5,420.0 120.9,420.0 121.3,420.0 121.7,420.0 122.1,420.0 122.5,419.9 122.9,418.7 123.2,412.3 123.6,412.0 124.0,411.9 124.4,407.9 124.8,418.6 125.2,407.3 125.6,410.3 126.0,404.9 126.3,410.0 126.7,406.4 127.1,400.1 127.5,409.9 127.9,405.1 128.3,401.1 128.7,394.8 129.1,401.8 129.4,392.9 129.8,399.9 130.2,397.9 130.6,393.3 131.0,390.7 131.4,386.5 131.8,385.4 132.2,393.2 132.5,385.2 132.9,385.7 133.3,388.2 133.7,381.7 134.1,379.0 134.5,383.9 134.9,376.8 135.3,386.9 135.6,385.4 136.0,376.1 136.4,381.6 136.8,376.8 137.2,377.1 137.6,381.2 138.0,371.7 138.3,371.1 138.7,378.6 139.1,376.1 139.5,367.7 139.9,365.3 140.3,365.1 140.7,369.5 141.1,370.6 141.4,368.7 141.8,371.7 142.2,366.5 142.6,369.5 143.0,369.7 143.4,365.9 143.8,369.6 144.2,363.2 144.5,359.4 144.9,359.3 145.3,354.1 145.7,354.6 146.1,357.5 146.5,353.2 146.9,358.9 147.3,353.3 147.6,359.9 148.0,355.9 148.4,348.9 148.8,353.6 149.2,354.3 149.6,349.8 150.0,355.9 150.4,348.0 150.7,358.9 151.1,355.2 151.5,355.6 151.9,353.9 152.3,343.7 152.7,356.1 153.1,351.7 153.5,347.3 153.8,345.0 154.2,343.5 154.6,348.5 155.0,350.3 155.4,340.9 155.8,350.7 156.2,351.1 156.6,348.3 156.9,344.1 157.3,337.3 157.7,339.9 158.1,341.8 158.5,342.0 158.9,339.1 159.3,339.6 159.7,343.3 160.0,346.3 160.4,344.4 160.8,335.8 161.2,337.5 161.6,334.8 162.0,345.0 162.4,332.6 162.8,339.5 163.1,331.5 163.5,335.8 163.9,336.1 164.3,331.9 164.7,334.3 165.1,333.2 165.5,340.2 165.9,333.5 166.2,336.7 166.6,340.3 167.0,339.2 167.4,334.0 167.8,336.7 168.2,329.3 168.6,338.1 169.0,339.3 169.3,325.2 169.7,334.5 170.1,331.4 170.5,335.3 170.9,335.1 171.3,332.1 171.7,326.3 172.1,336.6 172.4,325.1 172.8,322.7 173.2,328.5 173.6,331.1 174.0,332.6 174.4,333.0 174.8,330.8 175.2,323.1 175.5,334.8 175.9,323.6 176.3,325.0 176.7,333.9 177.1,333.0 177.5,323.4 177.9,324.0 178.3,328.8 178.6,320.9 179.0,329.9 179.4,326.6 179.8,330.8 180.2,323.1 180.6,330.8 181.0,329.3 181.4,320.8 181.7,324.3 182.1,321.9 182.5,320.7 182.9,322.3 183.3,327.8 183.7,320.6 184.1,328.6 184.5,326.3 184.8,323.6 185.2,328.1 185.6,328.1 186.0,320.2 186.4,318.8 186.8,323.8 187.2,323.4 187.6,325.8 187.9,321.2 188.3,320.2 188.7,315.1 189.1,327.5 189.5,315.2 189.9,313.9 190.3,322.8 190.7,317.3 191.0,315.8 191.4,318.1 191.8,323.0 192.2,318.2 192.6,314.5 193.0,325.2 193.4,319.8 193.8,326.1 194.1,314.4 194.5,315.2 194.9,325.4 195.3,315.4 195.7,316.0 196.1,323.9 196.5,318.1 196.8,315.7 197.2,320.6 197.6,318.1 198.0,311.3 198.4,316.0 198.8,317.8 199.2,323.8 199.6,322.9 199.9,312.6 200.3,314.0 200.7,312.6 201.1,316.1 201.5,316.0 201.9,316.5 202.3,313.6 202.7,319.2 203.0,316.7 203.4,317.0 203.8,314.2 204.2,320.4 204.6,323.0 205.0,322.0 205.4,320.7 205.8,311.0 206.1,312.9 206.5,312.4 206.9,316.6 207.3,321.3 207.7,316.1 208.1,310.4 208.5,315.3 208.9,313.5 209.2,317.1 209.6,320.2 210.0,313.4 210.4,315.3 210.8,317.2 211.2,318.3 211.6,312.1 212.0,317.4 212.3,313.7 212.7,318.0 213.1,311.0 213.5,316.3 213.9,314.8 214.3,308.4 214.7,311.3 215.1,310.9 215.4,316.5 215.8,309.4 216.2,315.7 216.6,307.2 217.0,308.4 217.4,311.7 217.8,309.2 218.2,313.2 218.5,310.5 218.9,319.0 219.3,306.7 219.7,309.3 220.1,318.5 220.5,317.1 220.9,312.4 221.3,309.7 221.6,318.2 222.0,306.8 222.4,315.4 222.8,306.2 223.2,309.6 223.6,313.3 224.0,314.9 224.4,318.6 224.7,318.7 225.1,311.1 225.5,309.0 225.9,307.1 226.3,314.6 226.7,306.5 227.1,315.5 227.5,306.4 227.8,306.7 228.2,317.4 228.6,307.4 229.0,309.6 229.4,309.6 229.8,307.6 230.2,311.8 230.6,312.2 230.9,314.1 231.3,307.1 231.7,306.6 232.1,316.9 232.5,308.3 232.9,315.2 233.3,160.5 233.7,165.2 234.0,167.1 234.4,166.2 234.8,170.6 235.2,172.9 235.6,176.0 236.0,176.1 236.4,174.4 236.8,182.3 237.1,180.5 237.5,181.4 237.9,187.6 238.3,187.4 238.7,184.3 239.1,185.3 239.5,188.1 239.9,195.2 240.2,192.1 240.6,196.2 241.0,200.0 241.4,199.1 241.8,197.2 242.2,199.1 242.6,204.4 243.0,208.5 243.3,203.3 243.7,204.1 244.1,209.3 244.5,212.9 244.9,211.8 245.3,211.9 245.7,214.9 246.1,217.3 246.4,219.4 246.8,220.3 247.2,223.5 247.6,223.1 248.0,218.8 248.4,227.5 248.8,94.5 249.2,95.7 249.5,98.1 249.9,103.7 250.3,105.0 250.7,110.5 251.1,109.9 251.5,112.2 251.9,114.6 252.3,118.9 252.6,117.9 253.0,121.2 253.4,125.8 253.8,127.4 254.2,132.7 254.6,130.1 255.0,134.6 255.3,135.1 255.7,141.7 256.1,138.8 256.5,147.4 256.9,146.4 257.3,151.6 257.7,153.1 258.1,150.9 258.4,158.1 258.8,157.7 259.2,161.1 259.6,158.1 260.0,165.7 260.4,165.7 260.8,163.7 261.2,166.7 261.5,168.4 261.9,168.0 262.3,176.9 262.7,173.9 263.1,175.0 263.5,176.6 263.9,178.5 264.3,420.0 264.6,420.0 265.0,420.0 265.4,420.0 265.8,420.0 266.2,420.0 266.6,420.0 267.0,420.0 267.4,420.0 267.7,420.0 268.1,420.0 268.5,420.0 268.9,420.0 269.3,420.0 269.7,420.0 270.1,420.0 270.5,420.0 270.8,420.0 271.2,420.0 271.6,420.0 272.0,420.0 272.4,420.0 272.8,420.0 273.2,420.0 273.6,416.4 273.9,420.0 274.3,417.0 274.7,420.0 275.1,418.4 275.5,414.0 275.9,420.0 276.3,417.1 276.7,417.4 277.0,407.1 277.4,413.1 277.8,407.9 278.2,409.0 278.6,409.0 279.0,397.9 279.4,402.7 279.8,399.5 280.1,397.5 280.5,394.7 280.9,401.4 281.3,402.8 281.7,396.2 282.1,399.3 282.5,400.3 282.9,386.5 283.2,389.5 283.6,391.5 284.0,394.3 284.4,384.5 284.8,386.7 285.2,390.7 285.6,378.3 286.0,377.8 286.3,377.1 286.7,377.6 287.1,380.8 287.5,383.1 287.9,377.2 288.3,383.4 288.7,375.9 289.1,382.8 289.4,382.6 289.8,371.9 290.2,376.3 290.6,370.4 291.0,368.4 291.4,366.8 291.8,369.1 292.2,365.1 292.5,366.9 292.9,362.4 293.3,362.0 293.7,373.3 294.1,369.4 294.5,366.9 294.9,368.1 295.3,368.5 295.6,357.9 296.0,369.2 296.4,366.3 296.8,357.5 297.2,364.3 297.6,363.2 298.0,352.5 298.4,354.8 298.7,358.5 299.1,362.3 299.5,359.8 299.9,349.2 300.3,351.3 300.7,360.8 301.1,351.2 301.5,355.3 301.8,349.9 302.2,355.3 302.6,357.1 303.0,358.1 303.4,353.6 303.8,345.2 304.2,344.2 304.6,346.6 304.9,345.2 305.3,352.4 305.7,349.7 306.1,341.5 306.5,339.8 306.9,347.0 307.3,341.8 307.7,339.1 308.0,337.7 308.4,347.1 308.8,341.6 309.2,344.9 309.6,343.4 310.0,343.0 310.4,345.2 310.8,348.4 311.1,337.5 311.5,338.0 311.9,335.6 312.3,344.9 312.7,343.3 313.1,337.8 313.5,332.7 313.8,338.8 314.2,342.2 314.6,336.3 315.0,330.9 315.4,331.8 315.8,331.0 316.2,337.5 316.6,339.2 316.9,330.3 317.3,331.1 317.7,329.9 318.1,336.0 318.5,337.2 318.9,337.5 319.3,328.3 319.7,327.3 320.0,334.8 320.4,327.3 320.8,334.0 321.2,332.7 321.6,330.8 322.0,335.3 322.4,334.4 322.8,334.1 323.1,334.0 323.5,330.1 323.9,335.6 324.3,325.8 324.7,334.1 325.1,330.0 325.5,327.0 325.9,333.8 326.2,329.7 326.6,327.3 327.0,327.3 327.4,322.2 327.8,323.5 328.2,332.6 328.6,322.3 329.0,326.1 329.3,324.1 329.7,331.1 330.1,326.5 330.5,323.1 330.9,321.5 331.3,321.2 331.7,329.3 332.1,320.4 332.4,323.9 332.8,322.3 333.2,319.5 333.6,325.6 334.0,318.2 334.4,318.5 334.8,319.4 335.2,325.2 335.5,322.9 335.9,327.7 336.3,319.3 336.7,317.3 337.1,327.4 337.5,319.0 337.9,319.5 338.3,328.6 338.6,316.1 339.0,322.1 339.4,324.9 339.8,328.1 340.2,317.3 340.6,323.4 341.0,320.8 341.4,325.1 341.7,319.2 342.1,322.0 342.5,316.1 342.9,317.9 343.3,317.0 343.7,323.5 344.1,326.0 344.5,314.4 344.8,313.4 345.2,317.4 345.6,313.4 346.0,316.3 346.4,317.6 346.8,320.1 347.2,320.8 347.6,318.8 347.9,322.5 348.3,319.5 348.7,318.2 349.1,324.8 349.5,319.6 349.9,321.0 350.3,316.0 350.7,313.4 351.0,316.0 351.4,315.2 351.8,315.8 352.2,320.8 352.6,319.0 353.0,312.3 353.4,310.8 353.8,321.4 354.1,323.7 354.5,310.2 354.9,311.6 355.3,315.0 355.7,312.0 356.1,315.0 356.5,310.6 356.9,319.8 357.2,316.9 357.6,313.6 358.0,319.9 358.4,312.8 358.8,319.1 359.2,312.7 359.6,311.3 360.0,316.6 360.3,308.5 360.7,313.5 361.1,311.7 361.5,321.9 361.9,320.6 362.3,312.1 362.7,308.7 363.1,313.1 363.4,309.0 363.8,321.0 364.2,309.2 364.6,309.3 365.0,312.8 365.4,315.5 365.8,311.5 366.2,318.0 366.5,311.9 366.9,311.5 367.3,313.6 367.7,317.5 368.1,321.1 368.5,318.3 368.9,309.2 369.2,317.9 369.6,319.8 370.0,317.3 370.4,313.4 370.8,312.4 371.2,308.3 371.6,308.6 372.0,306.9 372.3,308.0 372.7,314.1 373.1,318.4 373.5,306.9 373.9,317.0 374.3,311.5 374.7,316.4 375.1,308.6 375.4,317.3 375.8,314.1 376.2,316.9 376.6,307.8 377.0,311.2 377.4,311.0 377.8,315.4 378.2,317.3 378.5,307.7 378.9,308.9 379.3,309.3 379.7,305.6 380.1,311.7 380.5,317.0 380.9,310.9 381.3,315.4 381.6,312.2 382.0,312.9 382.4,311.4 382.8,306.3 383.2,307.8 383.6,313.4 384.0,307.7 384.4,307.0 384.7,308.2 385.1,311.3 385.5,306.4 385.9,312.1 386.3,317.5 386.7,315.1 387.1,309.7 387.5,313.5 387.8,312.9 388.2,161.8 388.6,164.6 389.0,168.4 389.4,171.2 389.8,173.6 390.2,170.7 390.6,175.4 390.9,176.3 391.3,174.4 391.7,178.7 392.1,179.1 392.5,181.3 392.9,181.6 393.3,190.4 393.7,189.6 394.0,186.9 394.4,192.4 394.8,190.2 395.2,197.9 395.6,200.5 396.0,195.5 396.4,200.9 396.8,201.7 397.1,199.8 397.5,207.0 397.9,202.5 398.3,208.5 398.7,211.2 399.1,212.7 399.5,211.8 399.9,213.6 400.2,211.6 400.6,219.6 401.0,221.0 401.4,221.4 401.8,219.1 402.2,218.9 402.6,222.5 403.0,222.7 403.3,223.7 403.7,97.5 404.1,103.9 404.5,105.0 404.9,102.3 405.3,109.9 405.7,108.1 406.1,114.0 406.4,118.6 406.8,122.8 407.2,123.7 407.6,125.5 408.0,127.0 408.4,129.4 408.8,131.0 409.2,133.9 409.5,139.5 409.9,140.0 410.3,137.2 410.7,146.2 411.1,143.2 411.5,147.2 411.9,147.7 412.3,152.5 412.6,154.3 413.0,155.2 413.4,154.3 413.8,160.5 414.2,164.2 414.6,166.5 415.0,162.1 415.4,168.2 415.7,171.4 416.1,169.7 416.5,169.6 416.9,173.2 417.3,178.2 417.7,178.0 418.1,180.7 418.5,184.1 418.8,178.8 419.2,420.0 419.6,420.0 420.0,420.0 420.4,420.0 420.8,420.0 421.2,420.0 421.6,420.0 421.9,420.0 422.3,420.0 422.7,420.0 423.1,420.0 423.5,420.0 423.9,420.0 424.3,420.0 424.7,420.0 425.0,420.0 425.4,420.0 425.8,420.0 426.2,420.0 426.6,420.0 427.0,420.0 427.4,420.0 427.7,420.0 428.1,420.0 428.5,420.0 428.9,419.3 429.3,417.3 429.7,415.7 430.1,415.1 430.5,415.2 430.8,411.2 431.2,419.1 431.6,415.9 432.0,407.1 432.4,413.5 432.8,407.4 433.2,410.0 433.6,406.3 433.9,399.4 434.3,400.6 434.7,402.4 435.1,403.6 435.5,394.9 435.9,395.8 436.3,397.7 436.7,390.6 437.0,391.9 437.4,386.7 437.8,390.1 438.2,385.7 438.6,389.5 439.0,386.2 439.4,383.3 439.8,392.9 440.1,386.5 440.5,383.6 440.9,390.3 441.3,379.1 441.7,379.1 442.1,375.1 442.5,382.1 442.9,379.8 443.2,372.7 443.6,378.8 444.0,372.0 444.4,376.9 444.8,377.2 445.2,377.2 445.6,377.2 446.0,373.3 446.3,376.3 446.7,366.1 447.1,363.3 447.5,374.8 447.9,374.6 448.3,374.6 448.7,360.8 449.1,372.1 449.4,362.8 449.8,367.4 450.2,368.2 450.6,366.8 451.0,359.8 451.4,368.6 451.8,356.0 452.2,359.5 452.5,363.5 452.9,363.2 453.3,356.3 453.7,356.0 454.1,359.8 454.5,358.9 454.9,356.5 455.3,349.6 455.6,354.2 456.0,349.4 456.4,351.6 456.8,352.1 457.2,352.6 457.6,349.3 458.0,351.4 458.4,347.6 458.7,354.7 459.1,352.2 459.5,343.9 459.9,350.1 460.3,343.3 460.7,341.5 461.1,346.0 461.5,352.2 461.8,342.5 462.2,343.3 462.6,348.1 463.0,339.6 463.4,344.5 463.8,350.0 464.2,349.4 464.6,346.7 464.9,340.9 465.3,337.6 465.7,347.3 466.1,347.9 466.5,339.1 466.9,341.7 467.3,340.8 467.7,335.1 468.0,333.3 468.4,332.2 468.8,334.5 469.2,345.0 469.6,342.6 470.0,336.1 470.4,330.5 470.8,342.5 471.1,336.0 471.5,337.3 471.9,336.8 472.3,338.4 472.7,338.1 473.1,338.2 473.5,339.8 473.9,333.1 474.2,334.3 474.6,330.2 475.0,331.0 475.4,326.2 475.8,334.6 476.2,326.6 476.6,333.3 477.0,329.2 477.3,326.8 477.7,332.3 478.1,331.3 478.5,328.5 478.9,335.5 479.3,329.3 479.7,335.2 480.1,333.1 480.4,327.2 480.8,322.1 481.2,321.4 481.6,331.6 482.0,332.9 482.4,327.5 482.8,328.3 483.2,329.0 483.5,323.2 483.9,323.8 484.3,325.7 484.7,324.6 485.1,325.0 485.5,323.4 485.9,319.7 486.2,319.2 486.6,318.5 487.0,320.0 487.4,330.4 487.8,325.3 488.2,320.5 488.6,327.2 489.0,322.6 489.3,330.1 489.7,327.9 490.1,324.9 490.5,329.4 490.9,324.2 491.3,326.8 491.7,317.7 492.1,325.2 492.4,324.1 492.8,318.0 493.2,321.3 493.6,328.3 494.0,325.7 494.4,320.1 494.8,325.7 495.2,324.8 495.5,319.4 495.9,321.1 496.3,324.1 496.7,319.9 497.1,318.7 497.5,326.9 497.9,323.4 498.3,322.8 498.6,314.6 499.0,326.2 499.4,321.9 499.8,323.9 500.2,316.7 500.6,314.9 501.0,325.4 501.4,313.9 501.7,316.2 502.1,322.8 502.5,312.8 502.9,321.5 503.3,314.4 503.7,324.3 504.1,318.8 504.5,318.0 504.8,312.4 505.2,313.1 505.6,317.1 506.0,324.0 506.4,318.5 506.8,319.2 507.2,310.4 507.6,314.7 507.9,318.5 508.3,318.9 508.7,313.2 509.1,322.5 509.5,312.3 509.9,314.2 510.3,317.5 510.7,313.5 511.0,317.8 511.4,321.3 511.8,317.4 512.2,322.4 512.6,321.8 513.0,316.8 513.4,311.3 513.8,319.9 514.1,315.7 514.5,308.9 514.9,310.9 515.3,309.8 515.7,312.9 516.1,314.0 516.5,314.1 516.9,313.7 517.2,315.5 517.6,316.9 518.0,318.6 518.4,321.0 518.8,316.6 519.2,310.9 519.6,313.9 520.0,319.3 520.3,310.1 520.7,320.9 521.1,308.3 521.5,312.2 521.9,313.5 522.3,315.4 522.7,309.5 523.1,321.0 523.4,320.8 523.8,313.7 524.2,316.7 524.6,315.2 525.0,313.2 525.4,320.1 525.8,306.9 526.2,311.1 526.5,319.2 526.9,310.1 527.3,313.0 527.7,310.8 528.1,310.0 528.5,306.4 528.9,318.6 529.3,306.2 529.6,313.5 530.0,317.3 530.4,314.8 530.8,314.9 531.2,307.4 531.6,312.6 532.0,319.0 532.4,309.8 532.7,312.8 533.1,308.3 533.5,319.1 533.9,307.5 534.3,307.1 534.7,319.5 535.1,312.8 535.5,317.8 535.8,312.0 536.2,318.2 536.6,306.9 537.0,316.8 537.4,309.9 537.8,310.1 538.2,314.7 538.6,316.2 538.9,306.3 539.3,318.6 539.7,315.5 540.1,314.5 540.5,310.8 540.9,313.8 541.3,317.4 541.7,310.9 542.0,308.7 542.4,309.0 542.8,312.0 543.2,227.2" stroke="#FF0000" stroke-width="1.1" clip-path="url(#ax2)"/></g>
<g font-family="Liberation Sans, Arial, Helvetica, sans-serif" fill="#262626">
<g font-size="13.33px" text-anchor="middle">
<text x="78.3" y="420.8">0</text>
<text x="155.8" y="420.8">0.5</text>
<text x="233.3" y="420.8">1</text>
<text x="310.8" y="420.8">1.5</text>
<text x="388.2" y="420.8">2</text>
<text x="465.7" y="420.8">2.5</text>
<text x="543.2" y="420.8">3</text>
</g><g font-size="13.33px" text-anchor="end">
<text x="71.5" y="375.0">-160</text>
<text x="71.5" y="313.9">-140</text>
<text x="71.5" y="252.7">-120</text>
<text x="71.5" y="191.5">-100</text>
<text x="71.5" y="130.3">-80</text>
<text x="71.5" y="69.2">-60</text>
</g>
<text x="310.5" y="442.6" font-size="16px" text-anchor="middle">time (ms)</text>
<text transform="translate(34.9 217) rotate(-90)" font-size="16px" text-anchor="middle">received power (dBW)</text>
</g></svg>
</body></html>
